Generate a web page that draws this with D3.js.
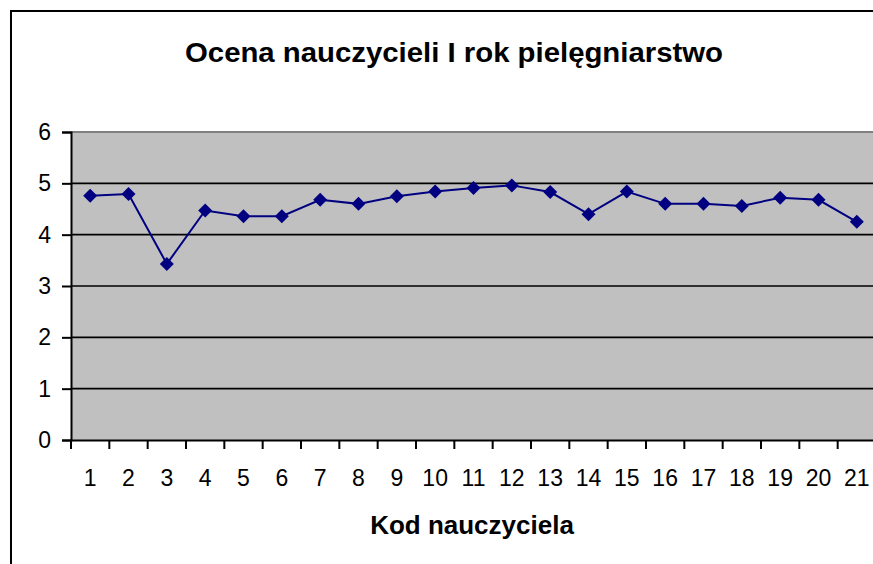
<!DOCTYPE html>
<meta charset="utf-8">
<script src="https://d3js.org/d3.v7.min.js"></script>
<style>
  body { margin: 0; background: #fff; }
  svg { display: block; font-family: Arial, "Liberation Sans", sans-serif; }
</style>
<div id="chart"></div>
<script>
// teacher codes on the x axis
var codes = ["1","2","3","4","5","6","7","8","9","10","11","12","13","14","15","16","17","18","19","20","21"]
// average rating per teacher
var ratings = [4.76, 4.79, 3.43, 4.47, 4.36, 4.36, 4.68, 4.60, 4.75, 4.84, 4.91, 4.96, 4.83, 4.40, 4.84, 4.60, 4.60, 4.56, 4.72, 4.68, 4.25]
var yTicks = [0, 1, 2, 3, 4, 5, 6]

var title = "Ocena nauczycieli I rok pielęgniarstwo"
var xTitle = "Kod nauczyciela"

var width = 873, height = 564
var plot = {left: 71, top: 132, width: 805, height: 308}

var svg = d3.select("#chart").append("svg").attr("width", width).attr("height", height)

// outer chart frame (runs off the right / bottom of the picture)
svg.append("rect")
  .attr("x", 11).attr("y", 11)
  .attr("width", 900).attr("height", 600)
  .attr("fill", "#fff").attr("stroke", "#000").attr("stroke-width", 2)

var x = d3.scaleBand().domain(codes).range([plot.left, plot.left + plot.width])
var y = d3.scaleLinear().domain([0, 6]).range([plot.top + plot.height, plot.top])

// plot area
svg.append("rect")
  .attr("x", plot.left).attr("y", plot.top)
  .attr("width", plot.width).attr("height", plot.height)
  .attr("fill", "#c0c0c0")
svg.append("line")
  .attr("x1", plot.left).attr("x2", plot.left + plot.width)
  .attr("y1", plot.top).attr("y2", plot.top)
  .attr("stroke", "#808080").attr("stroke-width", 2)

// gridlines
svg.append("g").selectAll("line")
  .data(yTicks.filter(d => d > 0 && d < 6))
  .join("line")
  .attr("x1", plot.left).attr("x2", plot.left + plot.width)
  .attr("y1", d => y(d)).attr("y2", d => y(d))
  .attr("stroke", "#000").attr("stroke-width", 1.6)

// y axis
var yAxis = svg.append("g")
  .attr("transform", "translate(" + plot.left + ",0)")
  .call(d3.axisLeft(y).tickValues(yTicks).tickSize(9).tickPadding(11).tickFormat(d3.format("d")))
yAxis.select(".domain").attr("stroke", "#000").attr("stroke-width", 2)
yAxis.selectAll(".tick line").attr("stroke", "#000").attr("stroke-width", 2)
yAxis.selectAll(".tick text").attr("font-size", 23).attr("fill", "#000")
  .attr("font-family", "Arial, 'Liberation Sans', sans-serif")

// x axis: ticks between categories
var xAxis = svg.append("g")
  .attr("transform", "translate(0," + (plot.top + plot.height) + ")")
  .call(d3.axisBottom(x).tickSize(0).tickPadding(30))
xAxis.select(".domain").attr("stroke", "#000").attr("stroke-width", 2)
xAxis.selectAll(".tick text").attr("font-size", 23).attr("fill", "#000")
  .attr("font-family", "Arial, 'Liberation Sans', sans-serif")
svg.append("g").selectAll("line")
  .data(codes.concat(["end"]))
  .join("line")
  .attr("x1", (d, i) => plot.left + i * x.step()).attr("x2", (d, i) => plot.left + i * x.step())
  .attr("y1", plot.top + plot.height).attr("y2", plot.top + plot.height + 9)
  .attr("stroke", "#000").attr("stroke-width", 2)

// series line
var line = d3.line()
  .x((d, i) => x(codes[i]) + x.bandwidth() / 2)
  .y(d => y(d))
svg.append("path")
  .datum(ratings)
  .attr("d", line)
  .attr("fill", "none")
  .attr("stroke", "#000080")
  .attr("stroke-width", 2)

// diamond markers
svg.append("g").selectAll("path")
  .data(ratings)
  .join("path")
  .attr("d", "M0,-7L7,0L0,7L-7,0Z")
  .attr("transform", (d, i) => "translate(" + (x(codes[i]) + x.bandwidth() / 2) + "," + y(d) + ")")
  .attr("fill", "#000080")

// titles
svg.append("text")
  .text(title)
  .attr("x", 454).attr("y", 62)
  .attr("text-anchor", "middle")
  .attr("font-size", 27).attr("font-weight", "bold")
  .attr("textLength", 538).attr("lengthAdjust", "spacingAndGlyphs")
svg.append("text")
  .text(xTitle)
  .attr("x", 472).attr("y", 534)
  .attr("text-anchor", "middle")
  .attr("font-size", 26).attr("font-weight", "bold")
</script>
